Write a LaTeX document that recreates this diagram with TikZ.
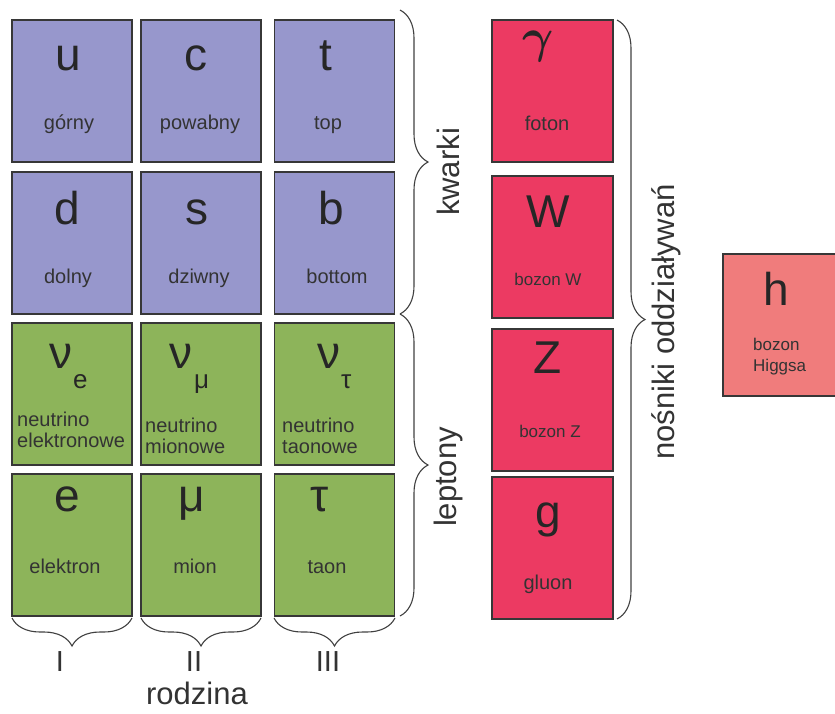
\documentclass[tikz,border=0pt]{standalone}
\usepackage{fix-cm}
\usepackage{fontspec}
\setmainfont{Liberation Sans}
\usetikzlibrary{decorations.pathreplacing}
\definecolor{quarkfill}{RGB}{151,151,204}
\definecolor{leptonfill}{RGB}{141,180,90}
\definecolor{bosonfill}{RGB}{236,58,98}
\definecolor{higgsfill}{RGB}{240,124,124}
\definecolor{edgegray}{RGB}{55,55,55}
\newcommand{\lowsub}[1]{\raisebox{-20pt}{\fontsize{26}{26}\selectfont #1}}

\begin{document}
\begin{tikzpicture}[x=1pt,y=-1pt,
  pbox/.style={draw=edgegray,line width=1.3pt,minimum width=120pt,minimum height=142pt,inner sep=0pt},
  quark/.style={pbox,fill=quarkfill},
  lepton/.style={pbox,fill=leptonfill},
  boson/.style={pbox,fill=bosonfill,minimum width=121pt},
  higgs/.style={pbox,fill=higgsfill,minimum width=122pt},
  sym/.style={anchor=base,inner sep=0pt,text=black!85,font=\fontsize{46}{46}\selectfont},
  lbl/.style={anchor=base,inner sep=0pt,text=black!80,font=\fontsize{20}{21}\selectfont},
  lbltwo/.style={anchor=base west,align=left,inner sep=0pt,text=black!80,font=\fontsize{20}{21}\selectfont},
  smlbl/.style={lbl,font=\fontsize{17}{20}\selectfont},
  grp/.style={inner sep=0pt,text=black!80,font=\fontsize{31}{31}\selectfont},
  brc/.style={decorate,decoration={brace,amplitude=28pt},draw=black!75,line width=1.1pt}]
  \clip (0,0) rectangle (835,713);
  \node[quark] (u) at (72,91) {};
  \node[quark] (c) at (201,91) {};
  \node[quark] (t) at (334.5,91) {};
  \node[quark] (d) at (72,243) {};
  \node[quark] (s) at (201,243) {};
  \node[quark] (b) at (334.5,243) {};
  \node[lepton] (ve) at (72,394) {};
  \node[lepton] (vmu) at (201,394) {};
  \node[lepton] (vtau) at (334.5,394) {};
  \node[lepton] (e) at (72,545) {};
  \node[lepton] (mu) at (201,545) {};
  \node[lepton] (tau) at (334.5,545) {};
  \node[boson] (gam) at (552.5,91) {};
  \node[boson] (w) at (552.5,247) {};
  \node[boson] (z) at (552.5,400) {};
  \node[boson] (g) at (552.5,548) {};
  \node[higgs] (h) at (784,325) {};
  \node[sym] (u-s) at (68,70) {u};
  \node[sym] (c-s) at (196,70) {c};
  \node[sym] (t-s) at (326,70) {t};
  \node[sym] (d-s) at (67,224) {d};
  \node[sym] (s-s) at (197,224) {s};
  \node[sym] (b-s) at (331,224) {b};
  \node[sym,anchor=base west] (ve-s) at (49,368) {ν\kern1pt\lowsub{e}};
  \node[sym,anchor=base west] (vmu-s) at (169,368) {ν\kern2pt\lowsub{μ}};
  \node[sym,anchor=base west] (vtau-s) at (317,368) {ν\kern1pt\lowsub{τ}};
  \node[sym] (e-s) at (67,511) {e};
  \node[sym] (mu-s) at (192,511) {μ};
  \node[sym] (tau-s) at (320,511) {τ};
  \node[sym,font=\fontsize{48}{48}\selectfont\boldmath] (gam-s) at (538,52) {$\gamma$};
  \node[sym] (w-s) at (548,227) {W};
  \node[sym] (z-s) at (548,373) {Z};
  \node[sym] (g-s) at (548,527) {g};
  \node[sym] (h-s) at (776,305) {h};
  \node[lbl] (u-n) at (69,129) {górny};
  \node[lbl] (c-n) at (200,129) {powabny};
  \node[lbl] (t-n) at (328,129) {top};
  \node[lbl] (d-n) at (68,283) {dolny};
  \node[lbl] (s-n) at (199,283) {dziwny};
  \node[lbl] (b-n) at (337,283) {bottom};
  \node[lbltwo] (ve-n) at (17,447) {neutrino\\elektronowe};
  \node[lbltwo] (vmu-n) at (145,453) {neutrino\\mionowe};
  \node[lbltwo] (vtau-n) at (282,453) {neutrino\\taonowe};
  \node[lbl] (e-n) at (65,573) {elektron};
  \node[lbl] (mu-n) at (195,573) {mion};
  \node[lbl] (tau-n) at (327,573) {taon};
  \node[lbl] (gam-n) at (547,130) {foton};
  \node[smlbl] (w-n) at (548,285) {bozon W};
  \node[smlbl] (z-n) at (550,437) {bozon Z};
  \node[lbl] (g-n) at (548,589) {gluon};
  \node[lbltwo,font=\fontsize{17}{21}\selectfont] (h-n) at (753,371) {bozon\\Higgsa};
  \draw[brc] (400,10) -- (400,314);
  \draw[brc] (400,314) -- (400,616);
  \draw[brc] (617,20) -- (617,619);
  \draw[brc] (132,618) -- (12,618);
  \draw[brc] (261,618) -- (141,618);
  \draw[brc] (395,618) -- (274,618);
  \node[grp,rotate=90] (kwarki) at (448,172) {kwarki};
  \node[grp,rotate=90] (leptony) at (448,477) {leptony};
  \node[grp,rotate=90] (nosniki) at (666,322) {nośniki oddziaływań};
  \node[grp,anchor=base,font=\fontsize{29}{29}\selectfont] (fam1) at (60,671) {I};
  \node[grp,anchor=base,font=\fontsize{29}{29}\selectfont] (fam2) at (194,671) {II};
  \node[grp,anchor=base,font=\fontsize{29}{29}\selectfont] (fam3) at (328,671) {III};
  \node[grp,anchor=base] (rodzina) at (197,704) {rodzina};
\end{tikzpicture}
\end{document}
